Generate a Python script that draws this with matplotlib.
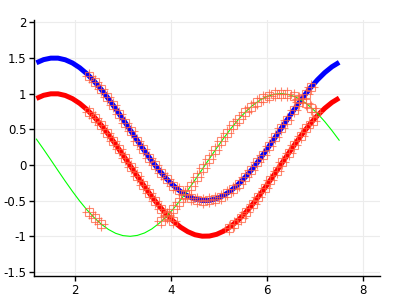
import matplotlib
matplotlib.use('Agg')
import matplotlib.pyplot as plt

# curve samples
x_line = [1.2, 1.35, 1.5, 1.65, 1.8, 1.95, 2.1, 2.25, 2.4, 2.55, 2.7, 2.85, 3.0,
          3.15, 3.3, 3.45, 3.6, 3.75, 3.9, 4.05, 4.2, 4.35, 4.5, 4.65, 4.8, 4.95,
          5.1, 5.25, 5.4, 5.55, 5.7, 5.85, 6.0, 6.15, 6.3, 6.45, 6.6, 6.75, 6.9,
          7.05, 7.2, 7.35, 7.5]
blue_line = [1.432, 1.476, 1.497, 1.497, 1.474, 1.429, 1.363, 1.278, 1.175, 1.058,
             0.927, 0.787, 0.641, 0.492, 0.342, 0.197, 0.057, -0.072, -0.188,
             -0.288, -0.372, -0.435, -0.478, -0.498, -0.496, -0.472, -0.426,
             -0.359, -0.273, -0.169, -0.051, 0.082, 0.221, 0.367, 0.517, 0.666,
             0.811, 0.950, 1.079, 1.194, 1.294, 1.376, 1.438]
red_line = [0.932, 0.976, 0.997, 0.997, 0.974, 0.929, 0.863, 0.778, 0.675, 0.558,
            0.427, 0.287, 0.141, -0.008, -0.158, -0.303, -0.443, -0.572, -0.688,
            -0.788, -0.872, -0.935, -0.978, -0.998, -0.996, -0.972, -0.926,
            -0.859, -0.773, -0.669, -0.551, -0.418, -0.279, -0.133, 0.017, 0.166,
            0.311, 0.450, 0.579, 0.694, 0.794, 0.876, 0.938]
green_line = [0.362, 0.219, 0.071, -0.079, -0.227, -0.370, -0.505, -0.628, -0.737,
              -0.830, -0.904, -0.958, -0.990, -1.000, -0.987, -0.953, -0.897,
              -0.820, -0.726, -0.615, -0.490, -0.354, -0.211, -0.062, 0.088, 0.236,
              0.378, 0.512, 0.635, 0.743, 0.835, 0.908, 0.960, 0.991, 1.000, 0.986,
              0.951, 0.893, 0.815, 0.720, 0.608, 0.482, 0.347]

# marked points
red_mx = [2.3, 2.42, 2.55, 2.67, 2.8, 2.92, 3.05, 3.17, 3.3, 3.42, 3.55, 3.67, 3.8,
          3.92, 4.05, 5.2, 5.32, 5.45, 5.57, 5.7, 5.82, 5.95, 6.07, 6.2, 6.32, 6.45,
          6.57, 6.7, 6.82, 6.95]
red_my = [0.746, 0.660, 0.558, 0.454, 0.335, 0.218, 0.091, -0.028, -0.158, -0.275,
          -0.397, -0.504, -0.612, -0.703, -0.788, -0.883, -0.822, -0.740, -0.655,
          -0.551, -0.447, -0.327, -0.212, -0.083, 0.037, 0.166, 0.283, 0.405,
          0.511, 0.619]
blue_mx = [2.3, 2.42, 2.55, 2.67, 2.8, 2.92, 3.05, 3.17, 3.3, 3.42, 3.55, 3.67, 3.8,
           3.92, 4.05, 4.17, 4.3, 4.42, 4.55, 4.67, 4.8, 4.92, 5.05, 5.17, 5.3, 5.42,
           5.55, 5.67, 5.8, 5.92, 6.05, 6.17, 6.3, 6.42, 6.55, 6.67, 6.8, 6.92]
blue_my = [1.246, 1.160, 1.058, 0.954, 0.835, 0.718, 0.591, 0.472, 0.342, 0.225,
           0.103, -0.004, -0.112, -0.203, -0.288, -0.356, -0.416, -0.457, -0.487,
           -0.499, -0.496, -0.479, -0.444, -0.397, -0.332, -0.260, -0.169, -0.076,
           0.035, 0.145, 0.269, 0.387, 0.517, 0.636, 0.764, 0.877, 0.994, 1.095]
green_mx = [2.3, 2.42, 2.55, 3.8, 3.92, 4.05, 4.17, 4.3, 4.42, 4.55, 4.67, 4.8, 4.92,
            5.05, 5.17, 5.3, 5.42, 5.55, 5.67, 5.8, 5.92, 6.05, 6.17, 6.3, 6.42,
            6.55, 6.67, 6.8, 6.92, 7.02]
green_my = [-0.666, -0.750, -0.830, -0.791, -0.711, -0.615, -0.516, -0.401, -0.288,
            -0.162, -0.042, 0.088, 0.206, 0.331, 0.442, 0.554, 0.650, 0.743, 0.818,
            0.886, 0.935, 0.973, 0.994, 1.000, 0.991, 0.965, 0.926, 0.869, 0.804,
            0.741]

x_ticks = [2, 4, 6, 8]
y_ticks = [-1.5, -1, -0.5, 0, 0.5, 1, 1.5, 2]

plt.rcParams['axes.unicode_minus'] = False
fig = plt.figure(figsize=(4, 3), dpi=100)
ax = fig.add_axes([0.085, 0.08, 0.865, 0.853])

ax.plot(x_line, blue_line, color='#0000ff', lw=3.6, solid_capstyle='butt', zorder=3)
ax.plot(x_line, red_line, color='#ff0000', lw=3.6, solid_capstyle='butt', zorder=3)
ax.plot(x_line, green_line, color='#00ff00', lw=0.8, zorder=3)

mc = '#ff6040'
for mx, my in [(red_mx, red_my), (blue_mx, blue_my), (green_mx, green_my)]:
    ax.plot(mx, my, ls='none', marker='s', ms=6, mfc='none', mec=mc,
            mew=0.8, alpha=0.75, zorder=4)
    ax.plot(mx, my, ls='none', marker='+', ms=10.5, mec=mc, mew=0.8,
            alpha=0.75, zorder=4)

ax.set_xlim(1.15, 8.35)
ax.set_ylim(-1.556, 2.03)
ax.set_xticks(x_ticks)
ax.set_xticklabels([str(t) for t in x_ticks])
ax.set_yticks(y_ticks)
ax.set_yticklabels(['%g' % t for t in y_ticks])
ax.grid(True, color='#ececec', lw=0.8)
ax.set_axisbelow(True)
for s in ['top', 'right']:
    ax.spines[s].set_visible(False)
for s in ['left', 'bottom']:
    ax.spines[s].set_linewidth(1.0)
ax.tick_params(direction='out', length=3.5, width=1.0, labelsize=8.5, pad=2)

fig.savefig('out.png', dpi=100)
